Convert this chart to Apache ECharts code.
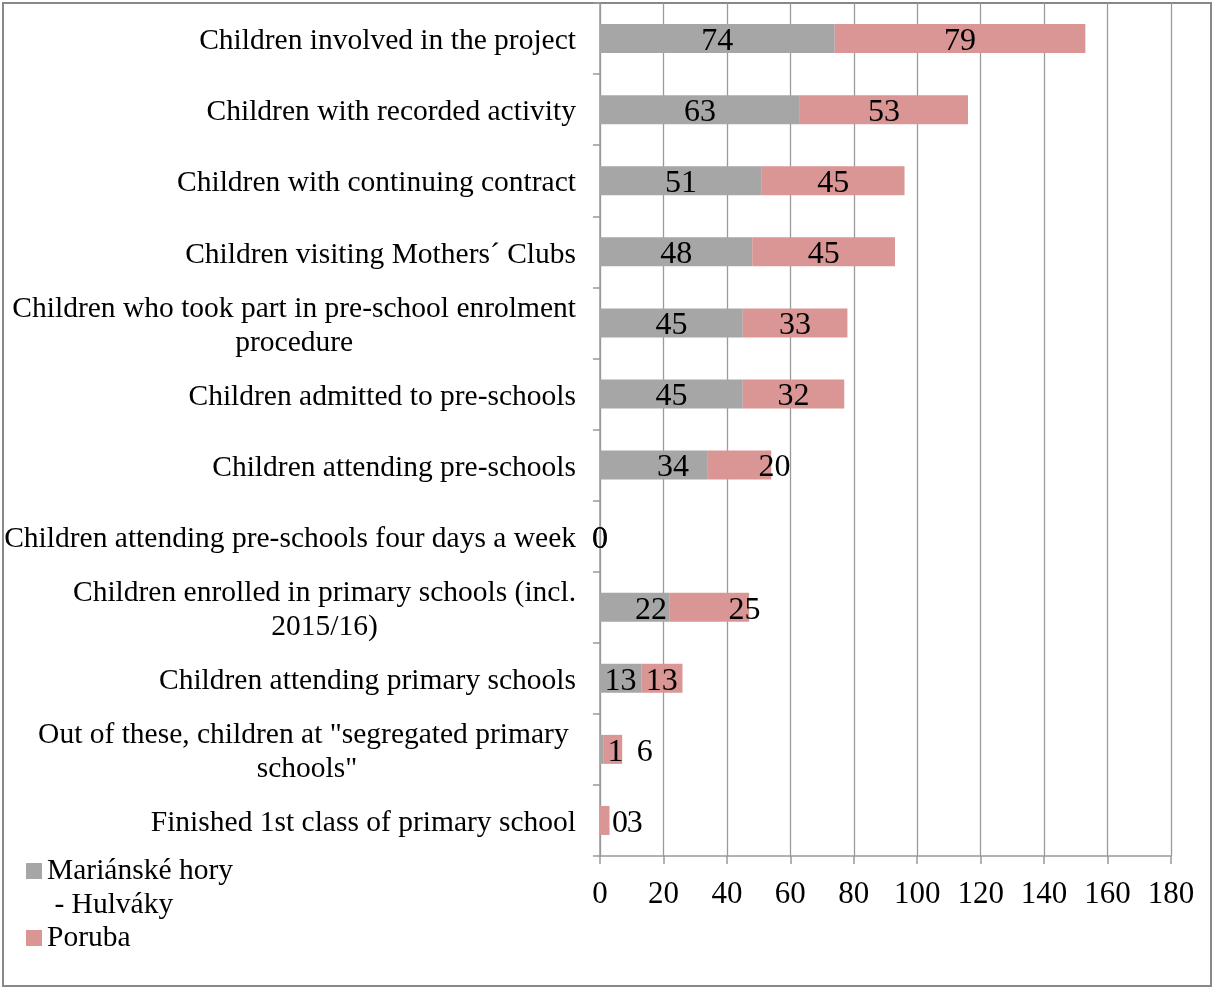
<!DOCTYPE html>
<html>
<head>
<meta charset="utf-8">
<script src="https://cdn.jsdelivr.net/npm/echarts@6/dist/echarts.min.js"></script>
<style>
  html, body { margin: 0; padding: 0; background: #fff; }
  #chart { width: 1213px; height: 988px; }
</style>
</head>
<body>
<div id="chart"></div>
<script>
// categories, top to bottom
const categories = [
  'Children involved in the project',
  'Children with recorded activity',
  'Children with continuing contract',
  'Children visiting Mothers´ Clubs',
  'Children who took part in pre-school enrolment\nprocedure',
  'Children admitted to pre-schools',
  'Children attending pre-schools',
  'Children attending pre-schools four days a week',
  'Children enrolled in primary schools (incl.\n2015/16)',
  'Children attending primary schools',
  'Out of these, children at "segregated primary \nschools"',
  'Finished 1st class of primary school'
];
const hulvakyValues = [74, 63, 51, 48, 45, 45, 34, 0, 22, 13, 1, 0];
const porubaValues = [79, 53, 45, 45, 33, 32, 20, 0, 25, 13, 6, 3];
const xTicks = [0, 20, 40, 60, 80, 100, 120, 140, 160, 180];

// label nudges (px) where the original labels sit off-centre
const hulvakyNudge = [0, 0, 0, 0, 0, 0, 19, 0, 16, 0, 14, 20];
const porubaNudge = [0, 0, 0, 0, 0, 0, 35, 0, 35, 0, 32, 30];

const FONT = '"Liberation Serif", "Times New Roman", serif';
const HULVAKY = 'Mariánské hory\n - Hulváky';
const chart = echarts.init(document.getElementById('chart'));

function toData(vals, nudge) {
  return vals.map((v, i) => ({ value: v, label: { offset: [nudge[i], 3] } }));
}

const option = {
  animation: false,
  color: ['#a6a6a6', '#d99694'],
  grid: { left: 600, right: 42, top: 3, bottom: 132 },
  legend: {
    orient: 'vertical',
    left: 26,
    top: 820,
    padding: 0,
    itemGap: -1,
    itemWidth: 16,
    itemHeight: 16,
    icon: 'rect',
    // empty first line keeps the square level with "Mariánské hory"
    formatter: name => (name === HULVAKY ? '\n' + name : name),
    textStyle: { fontSize: 29.5, fontFamily: FONT, color: '#000', lineHeight: 34 },
    data: [HULVAKY, 'Poruba']
  },
  xAxis: {
    type: 'value',
    min: xTicks[0],
    max: xTicks[xTicks.length - 1],
    interval: 20,
    axisLine: { show: true, lineStyle: { color: '#999', width: 1.5 } },
    axisTick: { show: true, length: 8, lineStyle: { color: '#999', width: 1.5 } },
    splitLine: { show: true, lineStyle: { color: '#9a9a9a', width: 1.3 } },
    axisLabel: { fontSize: 31, fontFamily: FONT, color: '#000', margin: 23 }
  },
  yAxis: {
    type: 'category',
    inverse: true,
    data: categories,
    axisLine: { show: true, lineStyle: { color: '#999', width: 1.5 } },
    axisTick: { show: true, length: 7, lineStyle: { color: '#999', width: 1.5 } },
    axisLabel: {
      margin: 24,
      padding: [6, 0, 0, 0],
      formatter: v => v.split('\n').map(s => '{c|' + s + '}').join('\n'),
      rich: {
        c: { align: 'center', fontSize: 29.5, fontFamily: FONT, color: '#000', lineHeight: 34 }
      }
    }
  },
  series: [
    {
      name: HULVAKY,
      type: 'bar',
      stack: 'total',
      barWidth: 29,
      data: toData(hulvakyValues, hulvakyNudge),
      label: { show: true, position: 'inside', fontSize: 32, fontFamily: FONT, color: '#000' }
    },
    {
      name: 'Poruba',
      type: 'bar',
      stack: 'total',
      barWidth: 29,
      data: toData(porubaValues, porubaNudge),
      label: { show: true, position: 'inside', fontSize: 32, fontFamily: FONT, color: '#000' }
    }
  ],
  graphic: [
    {
      type: 'rect',
      shape: { x: 3, y: 3, width: 1208, height: 983 },
      style: { fill: 'none', stroke: '#888', lineWidth: 2 },
      silent: true
    }
  ]
};

chart.setOption(option);
</script>
</body>
</html>
